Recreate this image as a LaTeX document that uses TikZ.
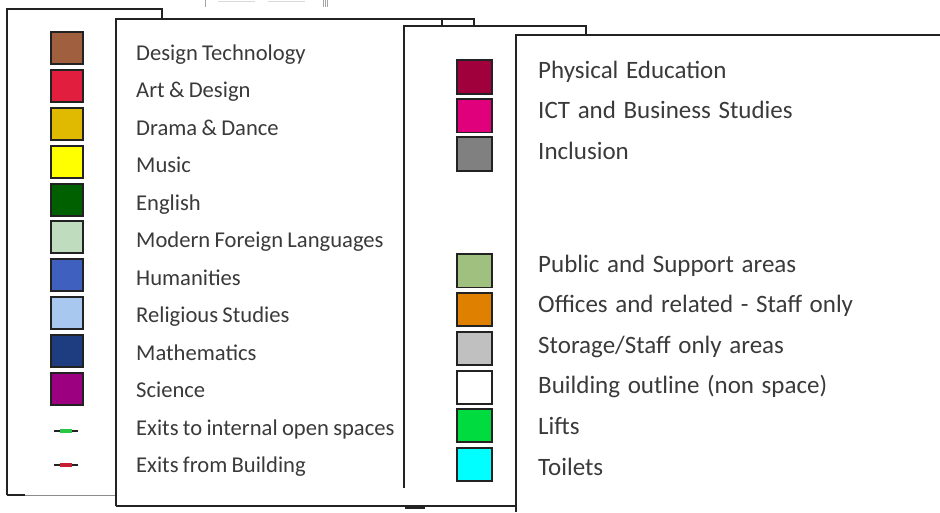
\documentclass[tikz,border=0pt]{standalone}
\usepackage{fontspec}
\setmainfont{Carlito}[WordSpace=0.85]
\newfontfamily\keyfontwide{Carlito}[WordSpace=1.35]
\definecolor{dtcol}{RGB}{160,96,64}
\definecolor{adcol}{RGB}{226,30,62}
\definecolor{ddcol}{RGB}{224,186,0}
\definecolor{mucol}{RGB}{255,255,0}
\definecolor{encol}{RGB}{0,96,0}
\definecolor{mflcol}{RGB}{192,220,190}
\definecolor{hucol}{RGB}{64,96,192}
\definecolor{rscol}{RGB}{168,200,240}
\definecolor{macol}{RGB}{30,60,128}
\definecolor{sccol}{RGB}{156,0,128}
\definecolor{pecol}{RGB}{160,0,60}
\definecolor{ictcol}{RGB}{224,0,124}
\definecolor{incol}{RGB}{128,128,128}
\definecolor{pscol}{RGB}{160,192,128}
\definecolor{ofcol}{RGB}{224,128,0}
\definecolor{stcol}{RGB}{192,192,192}
\definecolor{licol}{RGB}{0,220,64}
\definecolor{tocol}{RGB}{0,255,255}
\definecolor{exgreen}{RGB}{40,200,70}
\definecolor{exred}{RGB}{200,30,50}
\definecolor{inkcol}{RGB}{34,34,34}
\definecolor{txtcol}{RGB}{58,58,58}
\tikzset{
  panel/.style={draw=inkcol,line width=1.6pt},
  swatch/.style={draw=inkcol,line width=1.4pt},
  lbl/.style={anchor=base west,inner sep=0pt,text=txtcol,font=\fontsize{22.6}{22.6}\selectfont},
  lblbig/.style={lbl,font=\keyfontwide\fontsize{25}{25}\selectfont}
}
\begin{document}
\begin{tikzpicture}[x=1pt,y=-1pt]
        \useasboundingbox (0,0) rectangle (940,512);
        % faint remains at the top
        \draw[black!35,line width=0.6pt](205,0)--(205,7);
        \draw[black!15,line width=0.6pt](218,1)--(255,1) (268,1)--(305,1);
        \draw[black!35,line width=0.4pt](323,0)--(323,7) (325,0)--(325,7) (327,0)--(327,7);
        % panels
        \draw[panel](7,495)--(7,9)--(162,9)--(162,19);
        \draw[panel](7,495)--(25,495);
        \draw[black!45,line width=0.8pt](25,495)--(117,495);
        \draw[panel,fill=white](116,506)--(116,19)--(474,19)--(474,26);
        \draw[panel](442,19)--(442,26);
        \draw[panel](116,506)--(516,506);
        \draw[inkcol,line width=3pt](405,507)--(425,507);
        \draw[panel](404,488)--(404,26)--(586,26)--(586,35);
        \draw[panel](516,512)--(516,35)--(940,35);
        % left key
        \draw[swatch,fill=dtcol](51,32) rectangle (83,64);
        \draw[swatch,fill=adcol](51,70) rectangle (83,102);
        \draw[swatch,fill=ddcol](51,108) rectangle (83,140);
        \draw[swatch,fill=mucol](51,146) rectangle (83,178);
        \draw[swatch,fill=encol](51,184) rectangle (83,216);
        \draw[swatch,fill=mflcol](51,221) rectangle (83,253);
        \draw[swatch,fill=hucol](51,259) rectangle (83,291);
        \draw[swatch,fill=rscol](51,297) rectangle (83,329);
        \draw[swatch,fill=macol](51,335) rectangle (83,367);
        \draw[swatch,fill=sccol](51,373) rectangle (83,405);
        \draw[inkcol,line width=1.2pt](54,431)--(78,431);
        \draw[exgreen,line width=4pt](60,431)--(72,431);
        \draw[inkcol,line width=1.2pt](54,465)--(78,465);
        \draw[exred,line width=4pt](60,465)--(72,465);
        \node[lbl] (dt) at (136,60) {Design Technology};
        \node[lbl] (ad) at (136,97.5) {Art \& Design};
        \node[lbl] (dd) at (136,135) {Drama \& Dance};
        \node[lbl] (mu) at (136,172.5) {Music};
        \node[lbl] (en) at (136,210) {English};
        \node[lbl] (mfl) at (136,247.5) {Modern Foreign Languages};
        \node[lbl] (hu) at (136,285) {Humanities};
        \node[lbl] (rs) at (136,322.5) {Religious Studies};
        \node[lbl] (ma) at (136,360) {Mathematics};
        \node[lbl] (sc) at (136,397.5) {Science};
        \node[lbl] (exin) at (136,435) {Exits to internal open spaces};
        \node[lbl] (exout) at (136,472.5) {Exits from Building};
        % right key
        \draw[swatch,fill=pecol](457,60) rectangle (492,94);
        \draw[swatch,fill=ictcol](457,99) rectangle (492,132.5);
        \draw[swatch,fill=incol](457,137) rectangle (492,171);
        \draw[swatch,fill=pscol](457,254) rectangle (492,287.5);
        \draw[swatch,fill=ofcol](457,293) rectangle (492,326);
        \draw[swatch,fill=stcol](457,332) rectangle (492,365);
        \draw[swatch,fill=white](457,371) rectangle (492,404);
        \draw[swatch,fill=licol](457,409) rectangle (492,442);
        \draw[swatch,fill=tocol](457,448) rectangle (492,481);
        \node[lblbig] (pe) at (538,78) {Physical Education};
        \node[lblbig] (ict) at (538,118.6) {ICT and Business Studies};
        \node[lblbig] (inc) at (538,159.2) {Inclusion};
        \node[lblbig] (ps) at (538,272) {Public and Support areas};
        \node[lblbig] (of) at (538,312.6) {Offices and related - Staff only};
        \node[lblbig] (st) at (538,353.2) {Storage/Staff only areas};
        \node[lblbig] (bo) at (538,393.8) {Building outline (non space)};
        \node[lblbig] (li) at (538,434.4) {Lifts};
        \node[lblbig] (to) at (538,475) {Toilets};
      \end{tikzpicture}
\end{document}
